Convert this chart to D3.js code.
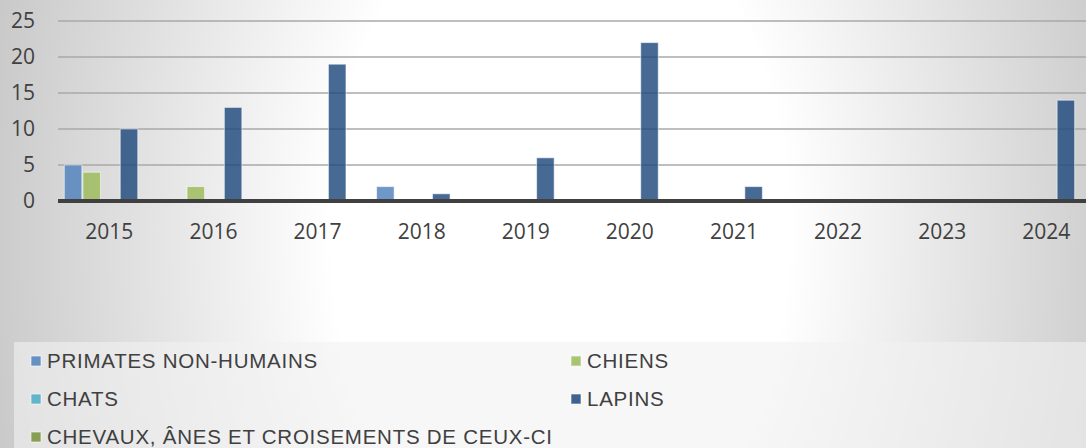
<!DOCTYPE html>
<html>
<head>
<meta charset="utf-8">
<script src="https://cdnjs.cloudflare.com/ajax/libs/d3/7.8.5/d3.min.js"></script>
<style>
    body { margin: 0; padding: 0; overflow: hidden; }
    svg { display: block; }
</style>
</head>
<body>
<svg id="chart" width="1086" height="448"></svg>
<script>
// data
var years = ['2015', '2016', '2017', '2018', '2019', '2020', '2021', '2022', '2023', '2024'];
var seriesNames = ['PRIMATES NON-HUMAINS', 'CHIENS', 'CHATS', 'LAPINS', 'CHEVAUX, ÂNES ET CROISEMENTS DE CEUX-CI'];
var primates = [5, 0, 0, 2, 0, 0, 0, 0, 0, 0];
var chiens   = [4, 2, 0, 0, 0, 0, 0, 0, 0, 0];
var chats    = [0, 0, 0, 0, 0, 0, 0, 0, 0, 0];
var lapins   = [10, 13, 19, 1, 6, 22, 2, 0, 0, 14];
var chevaux  = [0, 0, 0, 0, 0, 0, 0, 0, 0, 0];
var yTicks = [0, 5, 10, 15, 20, 25];
var colors = ['#4F81BD', '#9BBB59', '#4BACC6', '#1F497D', '#77933C'];

(function() {
    var W = 1086, H = 448;
    var svg = d3.select('#chart');
    var allSeries = [primates, chiens, chats, lapins, chevaux];

    // background radial gradient
    var defs = svg.append('defs');
    var grad = defs.append('radialGradient')
        .attr('id', 'bg')
        .attr('gradientUnits', 'userSpaceOnUse')
        .attr('cx', 0).attr('cy', 0).attr('r', 1)
        .attr('gradientTransform', 'translate(560,230) scale(600,900)');
    grad.append('stop').attr('offset', 0).attr('stop-color', '#ffffff');
    grad.append('stop').attr('offset', 0.38).attr('stop-color', '#ffffff');
    grad.append('stop').attr('offset', 1).attr('stop-color', '#c6c6c6');

    svg.append('rect').attr('width', W).attr('height', H).attr('fill', 'url(#bg)');

    var y = d3.scaleLinear().domain([0, 25]).range([201, 21]);
    var x0 = d3.scaleBand().domain(years).range([57.3, 1098.3]);
    var x1 = d3.scaleBand().domain(d3.range(seriesNames.length))
        .range([7, x0.bandwidth() - 5]).paddingInner(0.06);

    // gridlines
    svg.append('g').selectAll('line')
        .data(yTicks.filter(function(t) { return t > 0; }))
        .enter().append('line')
        .attr('x1', 58).attr('x2', W)
        .attr('y1', function(d) { return y(d); })
        .attr('y2', function(d) { return y(d); })
        .attr('stroke', '#a8a8a8')
        .attr('stroke-width', 1.6);

    // y labels
    svg.append('g').selectAll('text')
        .data(yTicks)
        .enter().append('text')
        .attr('x', 35)
        .attr('y', function(d) { return y(d); })
        .attr('dy', '0.35em')
        .attr('text-anchor', 'end')
        .style('font-family', '"Open Sans", sans-serif')
        .style('font-size', '21px')
        .style('fill', '#404040')
        .text(function(d) { return d; });

    // bars
    var groups = svg.append('g').selectAll('g')
        .data(years)
        .enter().append('g')
        .attr('transform', function(d) { return 'translate(' + x0(d) + ',0)'; });

    groups.selectAll('rect')
        .data(function(d, i) {
            return allSeries.map(function(s, k) { return { k: k, v: s[i] }; })
                .filter(function(e) { return e.v > 0; });
        })
        .enter().append('rect')
        .attr('x', function(d) { return x1(d.k); })
        .attr('y', function(d) { return y(d.v); })
        .attr('width', x1.bandwidth())
        .attr('height', function(d) { return y(0) - y(d.v); })
        .attr('fill', function(d) { return colors[d.k]; })
        .attr('fill-opacity', 0.82)
        .attr('stroke', 'rgba(255,255,255,0.55)')
        .attr('stroke-width', 1);

    // zero axis line
    svg.append('line')
        .attr('x1', 58).attr('x2', W)
        .attr('y1', y(0)).attr('y2', y(0))
        .attr('stroke', '#404040')
        .attr('stroke-width', 4);

    // x labels
    svg.append('g').selectAll('text')
        .data(years)
        .enter().append('text')
        .attr('x', function(d) { return x0(d) + x0.bandwidth() / 2; })
        .attr('y', 232)
        .attr('dy', '0.35em')
        .attr('text-anchor', 'middle')
        .style('font-family', '"Open Sans", sans-serif')
        .style('font-size', '21px')
        .style('fill', '#404040')
        .text(function(d) { return d; });

    // legend box
    svg.append('rect')
        .attr('x', 14).attr('y', 342)
        .attr('width', W - 14).attr('height', H - 342)
        .attr('fill', '#f2f2f2')
        .attr('fill-opacity', 0.6);

    var legPos = [[31, 361], [571, 361], [31, 399], [571, 399], [31, 437]];
    var leg = svg.append('g').selectAll('g')
        .data(seriesNames)
        .enter().append('g')
        .attr('transform', function(d, i) { return 'translate(' + legPos[i][0] + ',' + legPos[i][1] + ')'; });

    leg.append('rect')
        .attr('x', 0).attr('y', -5)
        .attr('width', 10).attr('height', 10)
        .attr('fill', function(d, i) { return colors[i]; })
        .attr('fill-opacity', 0.85)
        .attr('stroke', 'rgba(255,255,255,0.6)')
        .attr('stroke-width', 1);

    leg.append('text')
        .attr('x', 16)
        .attr('y', 0)
        .attr('dy', '0.35em')
        .style('font-family', '"Liberation Sans", Arial, sans-serif')
        .style('font-size', '20.5px')
        .style('letter-spacing', '0.75px')
        .style('fill', '#404040')
        .text(function(d) { return d; });
})();
</script>
</body>
</html>
